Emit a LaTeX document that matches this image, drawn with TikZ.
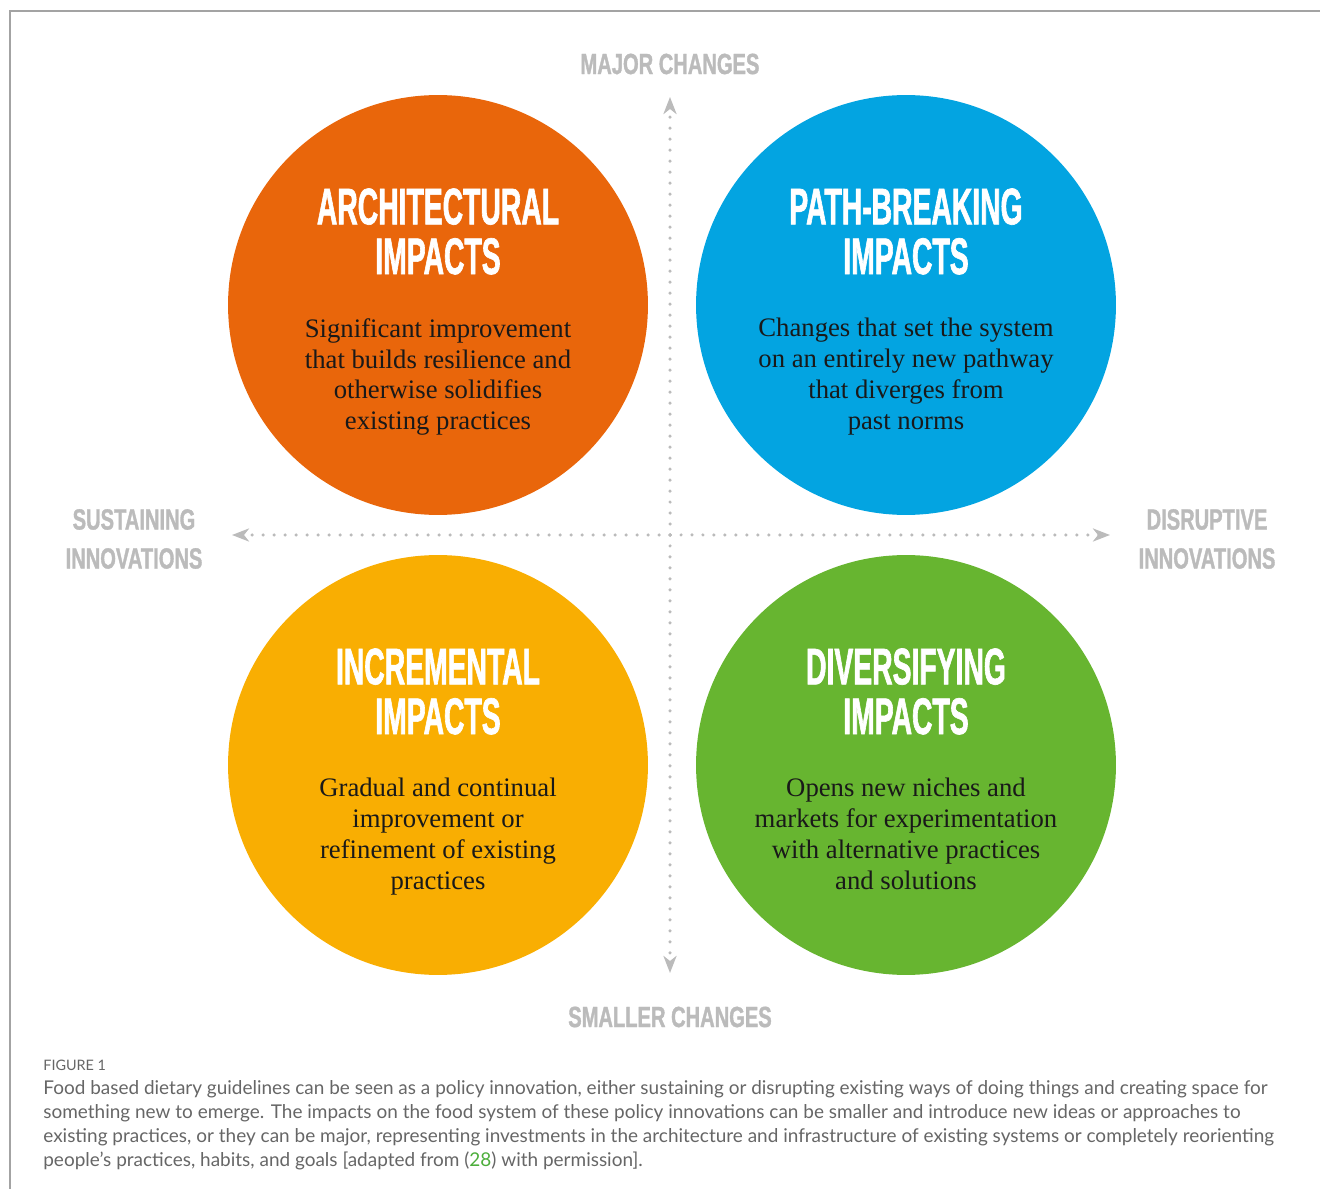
\documentclass[tikz,border=0pt]{standalone}
\usepackage{fontspec}
\setmainfont{Liberation Serif}
\newfontfamily\headfont{Liberation Sans}[FakeStretch=0.55,BoldFeatures={FakeBold=1.2}]
\newfontfamily\axisfont{Liberation Sans}[FakeStretch=0.69,BoldFeatures={FakeBold=1.2}]
\newfontfamily\capfont{Lato}
\usetikzlibrary{arrows.meta,positioning}

\definecolor{archorange}{HTML}{E9660B}
\definecolor{pathblue}{HTML}{03A4E1}
\definecolor{incryellow}{HTML}{F9AE02}
\definecolor{divgreen}{HTML}{67B530}
\definecolor{axisgray}{HTML}{BBBBBB}
\definecolor{framegray}{HTML}{A3A3A3}
\definecolor{captiongray}{HTML}{666666}
\definecolor{refgreen}{HTML}{4DAE3C}

\begin{document}
\begin{tikzpicture}[x=0.02cm, y=-0.02cm,
  impact/.style = {circle, minimum size=8.4cm, inner sep=0pt},
  head/.style = {anchor=north, align=center, inner sep=0pt, text=white,
    font=\headfont\bfseries\fontsize{29.3}{28.3}\selectfont},
  body/.style = {anchor=north, align=center, inner sep=0pt, text=black!90,
    font=\fontsize{15.2}{17.6}\selectfont},
  axislabel/.style = {align=center, inner sep=0pt, text=axisgray,
    font=\axisfont\bfseries\fontsize{16.6}{22.2}\selectfont},
  axis/.style = {axisgray, line width=0.07cm, line cap=round,
    dash pattern=on 0pt off 0.22cm,
    -{Stealth[length=0.34cm, width=0.26cm, inset=0.1cm]}}]
  \useasboundingbox (0,0) rectangle (1320,1189);
  \draw[framegray, line width=0.04cm] (10,1189) |- (1320,11);

  % Define nodes
  \node[impact, fill=archorange] (arch) at (438,305) {};
  \node[impact, fill=pathblue] (path) at (906,305) {};
  \node[impact, fill=incryellow] (incr) at (438,765) {};
  \node[impact, fill=divgreen] (div) at (906,765) {};

  \node[head] (archhead) at ([yshift=2.34cm]arch.center) {ARCHITECTURAL\\IMPACTS};
  \node[head] (pathhead) at ([yshift=2.34cm]path.center) {PATH-BREAKING\\IMPACTS};
  \node[head] (incrhead) at ([yshift=2.34cm]incr.center) {INCREMENTAL\\IMPACTS};
  \node[head] (divhead) at ([yshift=2.34cm]div.center) {DIVERSIFYING\\IMPACTS};

  \node[body] (archtext) at ([yshift=-0.26cm]arch.center)
    {Significant improvement\\that builds resilience and\\otherwise solidifies\\existing practices};
  \node[body] (pathtext) at ([yshift=-0.26cm]path.center)
    {Changes that set the system\\on an entirely new pathway\\that diverges from\\past norms};
  \node[body] (incrtext) at ([yshift=-0.26cm]incr.center)
    {Gradual and continual\\improvement or\\refinement of existing\\practices};
  \node[body] (divtext) at ([yshift=-0.26cm]div.center)
    {Opens new niches and\\markets for experimentation\\with alternative practices\\and solutions};

  \node[axislabel] (major) at (670,64) {MAJOR CHANGES};
  \node[axislabel] (smaller) at (670,1017) {SMALLER CHANGES};
  \node[axislabel] (sustaining) at (134,539) {SUSTAINING\\INNOVATIONS};
  \node[axislabel] (disruptive) at (1207,539) {DISRUPTIVE\\INNOVATIONS};

  \coordinate (origin) at (670,535);
  \coordinate (up) at (670,97);
  \coordinate (down) at (670,973);
  \coordinate (west) at (232,535);
  \coordinate (east) at (1110,535);

  % Add edges
  \draw[axis] (origin) -- (up);
  \draw[axis] (origin) -- (down);
  \draw[axis] (origin) -- (west);
  \draw[axis] (origin) -- (east);

  % Caption
  \node[anchor=base west, inner sep=0pt, text=captiongray,
    font=\capfont\fontsize{8.2}{10}\selectfont] (figno) at (43,1070) {FIGURE 1};
  \node[anchor=north west, align=left, inner sep=0pt, text=captiongray,
    font=\capfont\fontsize{10.8}{13.6}\selectfont] (caption) at (43,1080)
    {Food based dietary guidelines can be seen as a policy innovation, either sustaining or disrupting existing ways of doing things and creating space for\\
     something new to emerge. The impacts on the food system of these policy innovations can be smaller and introduce new ideas or approaches to\\
     existing practices, or they can be major, representing investments in the architecture and infrastructure of existing systems or completely reorienting\\
     people’s practices, habits, and goals [adapted from (\textcolor{refgreen}{28}) with permission].};
\end{tikzpicture}
\end{document}
